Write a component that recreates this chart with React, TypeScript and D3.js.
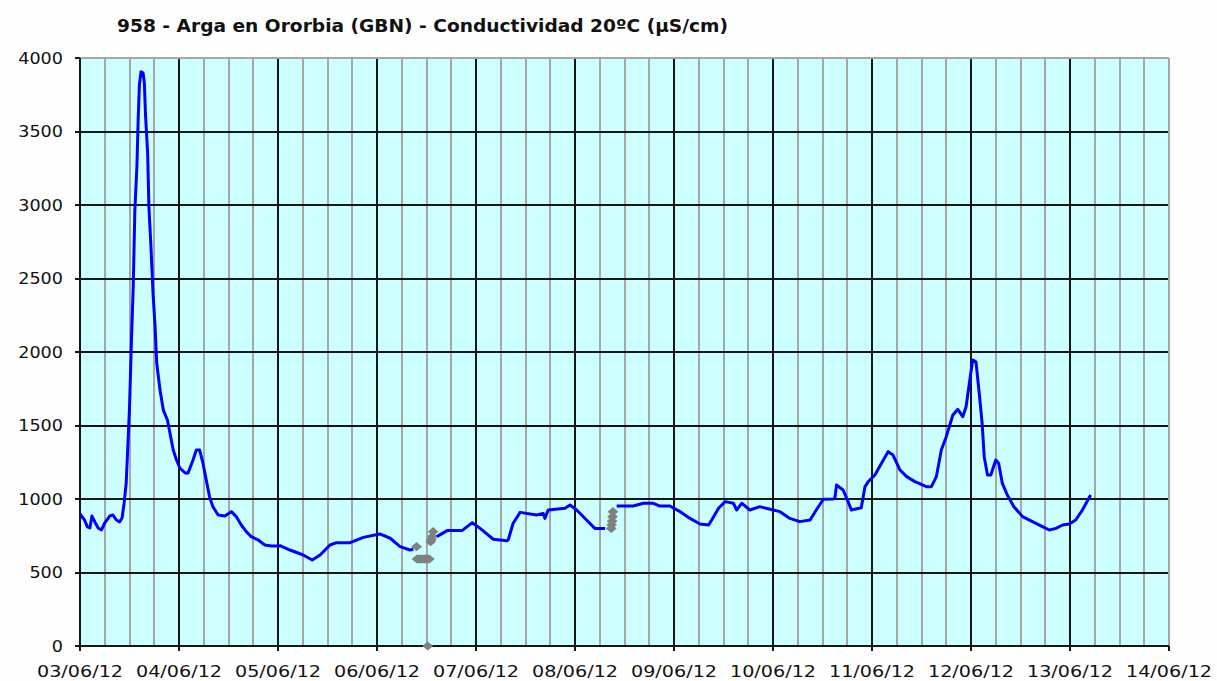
import React from "react";
import * as d3 from "d3";

const title = "958 - Arga en Ororbia (GBN) - Conductividad 20ºC (µS/cm)";
const startDate = new Date(2012, 5, 3, 0, 0);
const endDate = new Date(2012, 5, 14, 0, 0);
const yTicks = [0, 500, 1000, 1500, 2000, 2500, 3000, 3500, 4000];

// Blue series: hours since 03/06/12 00:00 (null = gap)
const hours: (number | null)[] = [
  0, 1.1, 1.8, 2.4, 2.9, 3.6, 4.4, 5.2, 6.0, 7.2, 8.0, 8.8, 9.6, 10.2, 10.7, 11.2, 11.6, 12.0, 12.5, 12.9,
  13.3, 13.8, 14.1, 14.4, 14.8, 15.3, 15.6, 15.9, 16.4, 16.7, 17.2, 17.7, 18.2, 18.6, 19.4, 20.2, 21.2, 21.8,
  22.6, 23.4, 24.2, 25.5, 26.2, 27.4, 28.2, 29.0, 29.8, 30.6, 31.4, 32.2, 33.5, 35.1, 36.7, 37.9, 39.1, 40.3,
  41.5, 43.2, 44.8, 46.4, 48.0, 48.5, 50.9, 54.1, 56.3, 58.2, 60.6, 62.2, 65.5, 68.7, 72.7, 75.2, 77.6, 80.0, 80.8,
  null,
  86.5, 89.0, 92.6, 95.1, 97.0, 100.2, 103.5, 103.8, 105.0, 106.7, 110.7, 112.3, 112.7, 113.5, 117.6, 118.8,
  120.4, 122.8, 124.8, 127.3,
  null,
  130.1, 134.1, 136.6, 139.0, 140.6, 143.0, 145.5, 147.9, 150.3, 152.4, 153.6, 154.8, 156.4, 158.4, 159.2, 160.4,
  162.4, 164.8, 167.3, 169.7, 172.1, 174.5, 177.0, 178.6, 180.2, 182.6, 183.0, 183.4, 185.0, 186.2, 187.0, 189.4,
  190.3, 191.1, 192.7, 194.3, 195.9, 197.1, 198.8, 200.4, 202.4, 205.2, 206.4, 207.6, 208.8, 210.0, 211.6, 212.8,
  214.0, 214.8, 215.6, 216.4, 217.2, 218.0, 218.7, 219.2, 220.0, 220.8, 222.0, 222.7, 223.6, 224.8, 226.4, 228.5,
  230.9, 233.3, 235.0, 236.6, 238.2, 239.8, 241.4, 243.0, 245.0,
];

const values: (number | null)[] = [
  898, 857, 810, 803, 884, 844, 803, 789, 837, 884, 891, 857, 844, 871, 973, 1109, 1360, 1620, 2100, 2440,
  2966, 3265, 3578, 3816, 3907, 3898, 3830, 3601, 3354, 2989, 2717, 2401, 2172, 1925, 1741, 1605, 1537, 1449,
  1333, 1265, 1211, 1177, 1177, 1265, 1333, 1333, 1245, 1129, 1016, 948, 891, 884, 914, 880, 823, 778,
  744, 721, 687, 680, 680, 682, 653, 619, 585, 619, 687, 703, 703, 739, 762, 733, 676, 653, 658,
  null,
  744, 785, 785, 839, 800, 726, 716, 721, 835, 909, 891, 902, 868, 925, 937, 959,
  925, 857, 800, 800,
  null,
  952, 952, 971, 971, 952, 952, 914, 868, 830, 823, 880, 937, 982, 971, 925, 971,
  925, 948, 930, 914, 868, 846, 857, 930, 998, 1000, 1005, 1095, 1061, 982, 925, 940,
  1084, 1118, 1163, 1243, 1322, 1299, 1197, 1152, 1118, 1084, 1084, 1152, 1333, 1424, 1571, 1610,
  1560, 1628, 1787, 1946, 1934, 1718, 1515, 1288, 1163, 1163, 1265, 1243, 1106, 1027, 948, 880,
  846, 812, 789, 800, 823, 830, 857, 925, 1027,
];

// Grey (flagged) points
const flagHours = [
  81.6, 81.7, 82.0, 82.3, 82.6, 82.9, 83.2, 83.5, 83.8, 84.1, 84.3, 84.4, 84.7, 85.0, 85.2, 85.4, 85.6,
  128.8, 128.9, 129.0, 129.1, 129.2,
];
const flagValues = [
  676, 592, 592, 592, 592, 592, 592, 592, 592, 592, 0, 592, 592, 709, 725, 745, 778,
  800, 825, 850, 880, 914,
];

const xTickDates = d3.timeDay.range(startDate, d3.timeDay.offset(endDate, 1));
const minorDates = d3.timeHour.every(6)!.range(startDate, endDate).filter((d) => d.getHours() !== 0);

const W = 1217, H = 681;
const M = { left: 80, right: 1169, top: 58, bottom: 646 };

const fmt = d3.timeFormat("%d/%m/%y");

const flatDiamond = {
  draw(ctx: any, size: number) {
    const hw = Math.sqrt(size) * 0.6;
    const hh = hw * 0.85;
    ctx.moveTo(-hw, 0);
    ctx.lineTo(0, -hh);
    ctx.lineTo(hw, 0);
    ctx.lineTo(0, hh);
    ctx.closePath();
  },
};

export default function App() {
  const x = d3.scaleTime().domain([startDate, endDate]).range([M.left, M.right]);
  const y = d3.scaleLinear().domain([0, 4000]).range([M.bottom, M.top]);
  const toDate = (h: number) => new Date(startDate.getTime() + h * 3600 * 1000);

  const pts = hours.map((h, i) => ({ h, v: values[i] }));
  const line = d3
    .line<{ h: number | null; v: number | null }>()
    .defined((d) => d.h !== null && d.v !== null)
    .x((d) => x(toDate(d.h as number)))
    .y((d) => y(d.v as number));

  const diamond = d3.symbol().type(flatDiamond as any).size(80)();

  return (
    <svg
      width={W}
      height={H}
      style={{ position: "absolute", left: 0, top: 0, background: "#fff" }}
      fontFamily="'DejaVu Sans', Verdana, sans-serif"
    >
      <rect x={0} y={0} width={W} height={H} fill="#fefefe" />
      <text x={117} y={32} fontSize={17} fontWeight="bold" textLength={611} lengthAdjust="spacingAndGlyphs" fill="#111">
        {title}
      </text>
      <rect x={M.left} y={M.top} width={M.right - M.left} height={M.bottom - M.top} fill="#CCFFFF" />
      <g shapeRendering="crispEdges">
        {minorDates.map((d, i) => (
          <line key={"mn" + i} x1={x(d)} x2={x(d)} y1={M.top} y2={M.bottom} stroke="#a6a6a6" strokeWidth={2} />
        ))}
        {xTickDates.map((d, i) => (
          <line key={"mj" + i} x1={x(d)} x2={x(d)} y1={M.top} y2={M.bottom + 5} stroke="#161616" strokeWidth={2} />
        ))}
        {yTicks.map((t) => (
          <line key={"h" + t} x1={M.left - 5} x2={M.right} y1={y(t)} y2={y(t)} stroke="#161616" strokeWidth={2} />
        ))}
        <line x1={M.left} x2={M.right} y1={M.top} y2={M.top} stroke="#a6a6a6" strokeWidth={2} />
        <line x1={M.right} x2={M.right} y1={M.top} y2={M.bottom} stroke="#a6a6a6" strokeWidth={2} />
        <line x1={M.left} x2={M.left} y1={M.top} y2={M.bottom + 5} stroke="#161616" strokeWidth={2} />
        <line x1={M.left} x2={M.right} y1={M.bottom} y2={M.bottom} stroke="#161616" strokeWidth={2} />
      </g>
      {yTicks.map((t) => (
        <text
          key={"yl" + t}
          x={63}
          y={y(t) + 5.5}
          fontSize={15}
          textAnchor="end"
          fill="#111"
          textLength={String(t).length * 11.2}
          lengthAdjust="spacingAndGlyphs"
        >
          {t}
        </text>
      ))}
      {xTickDates.map((d, i) => (
        <text
          key={"xl" + i}
          x={x(d)}
          y={677}
          fontSize={15}
          textAnchor="middle"
          fill="#111"
          textLength={86}
          lengthAdjust="spacingAndGlyphs"
        >
          {fmt(d)}
        </text>
      ))}
      {flagHours.map((h, i) => (
        <path
          key={"f" + i}
          d={diamond as string}
          transform={`translate(${x(toDate(h))},${y(flagValues[i])})`}
          fill="#808080"
        />
      ))}
      <path d={line(pts) || ""} fill="none" stroke="#0000FF" strokeWidth={3} strokeLinejoin="round" />
    </svg>
  );
}
